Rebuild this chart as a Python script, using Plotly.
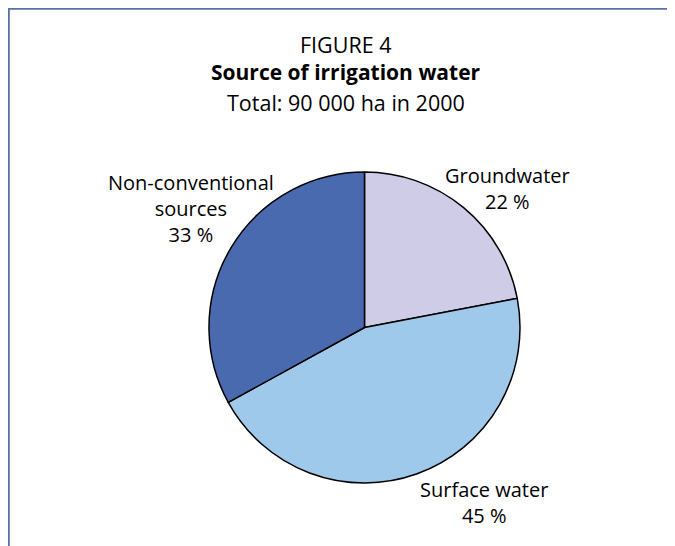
import plotly.graph_objects as go

categories = ["Groundwater", "Surface water", "Non-conventional sources"]
shares = [22, 45, 33]
label_texts = ["Groundwater<br>22 %", "Surface water<br>45 %", "Non-conventional<br>sources<br>33 %"]
colors = ["#CFCCE7", "#9FC9EB", "#4A6AB0"]

# page has an 8px body margin; work in reference page coordinates and convert
OFF = 8
W, H = 675 - OFF, 546 - OFF

def px(x):
    return (x - OFF) / W

def py(y):
    return 1 - (y - OFF) / H

cx, cy, r = 364.5, 327.5, 155.5

fig = go.Figure(go.Pie(
    labels=categories, values=shares, sort=False, direction="clockwise", rotation=0,
    marker=dict(colors=colors, line=dict(color="black", width=1.5)),
    textinfo="none", hoverinfo="label+percent",
    domain=dict(x=[px(cx - r), px(cx + r)], y=[py(cy + r), py(cy - r)]),
    showlegend=False,
))

font = "Open Sans"

def ann(x, y, text, size=20):
    fig.add_annotation(x=px(x), y=py(y), xref="paper", yref="paper", text=text,
                       showarrow=False, font=dict(family=font, size=size, color="black"),
                       xanchor="center", yanchor="middle", align="center")

ann(346, 44, "FIGURE 4", size=21.5)
ann(346, 72, "<b>Source of irrigation water</b>", size=21)
ann(346, 102, "Total: 90 000 ha in 2000", size=21.5)
ann(508, 189, label_texts[0])
ann(484, 502, label_texts[1])
ann(191, 208, label_texts[2])

fig.update_layout(
    width=W, height=H, margin=dict(l=0, r=0, t=0, b=0),
    paper_bgcolor="white", plot_bgcolor="white",
    shapes=[
        dict(type="line", xref="paper", yref="paper", x0=0, x1=1, y0=1 - 0.8 / H, y1=1 - 0.8 / H,
             line=dict(color="#5A6FA8", width=2)),
        dict(type="line", xref="paper", yref="paper", x0=0.8 / W, x1=0.8 / W, y0=0, y1=1,
             line=dict(color="#5A6FA8", width=2)),
    ],
)

fig.write_html("out.html")
